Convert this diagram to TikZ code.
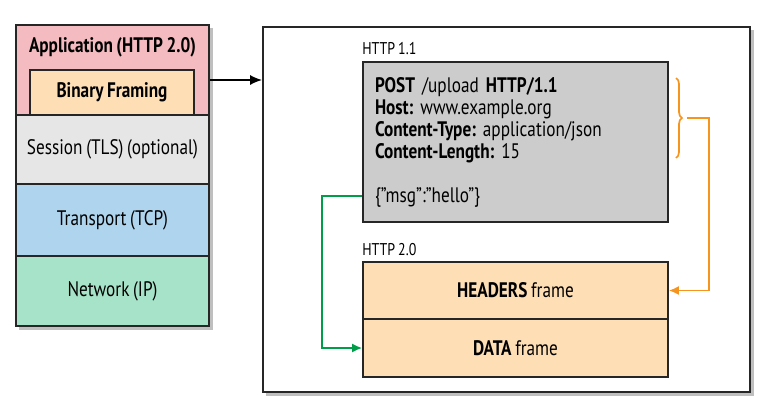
\documentclass[tikz,border=0pt]{standalone}
\usepackage{fontspec}
\setmainfont{PT Sans}[FakeStretch=0.82, WordSpace=0.8]
\usetikzlibrary{arrows.meta,positioning,calc,decorations.pathreplacing}
\definecolor{apppink}{RGB}{244,187,193}
\definecolor{framepeach}{RGB}{253,222,181}
\definecolor{sessiongray}{RGB}{230,230,230}
\definecolor{transportblue}{RGB}{174,212,238}
\definecolor{networkgreen}{RGB}{166,227,200}
\definecolor{msggray}{RGB}{204,204,204}
\definecolor{linkgreen}{RGB}{0,158,73}
\definecolor{linkorange}{RGB}{247,148,30}
\tikzset{
  box/.style={draw=black!85, line width=1.7pt, inner sep=0pt, font=\fontsize{21}{22}\selectfont},
  layer/.style={box, minimum width=193pt},
  frameline/.style={box, minimum width=305pt},
  caption/.style={anchor=base west, inner sep=0pt, font=\fontsize{17}{18}\selectfont},
  link/.style={line width=1.7pt, -{Latex[length=10pt,width=9pt]}}
}
\frenchspacing
\begin{document}
\begin{tikzpicture}[x=1pt, y=-1pt, line join=miter]
\useasboundingbox (0,0) rectangle (769,410);
% shadows
\fill[black!25] (19,28) rectangle (213,330);
\fill[black!25] (266,30) rectangle (754,396);
% protocol stack
\node[layer, fill=apppink, minimum height=90pt]          (app)       at (112.5,70)  {};
\node[font=\fontsize{21}{22}\selectfont\bfseries]         (applabel)  at (112.5,47)  {Application (HTTP 2.0)};
\node[box, fill=framepeach, minimum width=164pt, minimum height=45pt] (framing) at (112,92.5) {\bfseries Binary Framing};
\node[layer, fill=sessiongray, minimum height=69pt]      (session)   at (112.5,149.5) {Session (TLS) (optional)};
\node[layer, fill=transportblue, minimum height=72pt]    (transport) at (112.5,220)   {Transport (TCP)};
\node[layer, fill=networkgreen, minimum height=70pt]     (network)   at (112.5,291)   {Network (IP)};
% outer frame
\node[box, fill=white, minimum width=487pt, minimum height=365pt] (frame) at (506.5,209.5) {};
\draw[link, -{Latex[length=12pt,width=10pt]}] ([yshift=-10pt]app.east) -- ([yshift=-10pt]app.east -| frame.west);
% HTTP 1.1 message
\node[frameline, fill=msggray, minimum height=160pt, align=left, text width=281pt] (http11) at (515.5,142)
  {\textbf{POST} /upload \textbf{HTTP/1.1}\\
   \textbf{Host:} www.example.org\\
   \textbf{Content-Type:} application/json\\
   \textbf{Content-Length:} 15\\[22pt]
   \{''msg'':''hello''\}};
\node[caption] (label11) at ([yshift=7pt]http11.north west) {HTTP 1.1};
% HTTP 2.0 frames
\node[frameline, fill=framepeach, minimum height=57pt] (headers) at (515.5,290.5) {\textbf{HEADERS} frame};
\node[frameline, fill=framepeach, minimum height=58pt] (data)    at (515.5,348)   {\textbf{DATA} frame};
\node[caption] (label20) at ([yshift=6pt]headers.north west) {HTTP 2.0};
% connectors
\draw[linkgreen, link] ([yshift=-54pt]http11.west) -- ++(-40,0) |- (data.west);
\draw[linkorange, line width=1.7pt, decorate, decoration={brace, amplitude=6pt}] (676,78) -- (676,158);
\coordinate (bracetip) at (687,118);
\draw[linkorange, link] (bracetip) -- ++(22,0) |- (headers.east);
\end{tikzpicture}
\end{document}
